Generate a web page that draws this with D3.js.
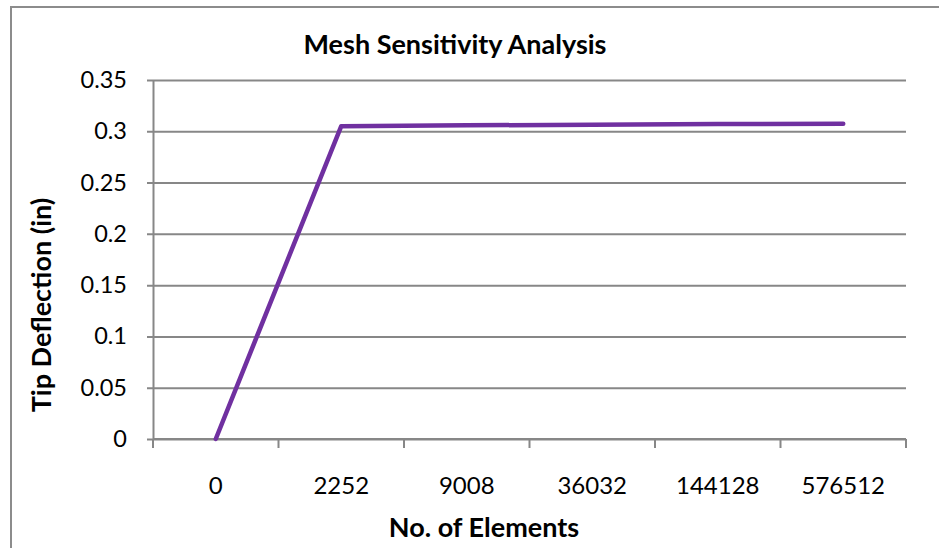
<!DOCTYPE html>
<html>
<head>
<meta charset="utf-8">
<script src="https://cdn.jsdelivr.net/npm/d3@7"></script>
<style>
  html, body { margin: 0; padding: 0; background: #fff; }
  svg { display: block; }
  text { font-family: Lato, "Open Sans", sans-serif; fill: #000; }
</style>
</head>
<body>
<div id="chart"></div>
<script>
// mesh sensitivity data
var categories = ["0", "2252", "9008", "36032", "144128", "576512"];
var deflection = [0, 0.3050, 0.3058, 0.3064, 0.3070, 0.3073];
var yTicks = [0, 0.05, 0.1, 0.15, 0.2, 0.25, 0.3, 0.35];

var W = 939, H = 548;
var margin = {top: 80, right: 33, bottom: 109, left: 153};
var gridColor = "#878787";
var lineColor = "#7030a0";

var svg = d3.select("#chart").append("svg")
    .attr("width", W)
    .attr("height", H);

// chart area border (top + left visible in the picture)
svg.append("rect")
    .attr("x", 11).attr("y", 7)
    .attr("width", W + 10).attr("height", H + 10)
    .attr("fill", "none")
    .attr("stroke", "#8c8c8c")
    .attr("stroke-width", 2);

var x = d3.scaleBand()
    .domain(categories)
    .range([margin.left, W - margin.right])
    .paddingInner(0).paddingOuter(0);

var y = d3.scaleLinear()
    .domain([0, 0.35])
    .range([H - margin.bottom, margin.top]);

// horizontal gridlines + y axis
var yAxis = svg.append("g")
    .attr("transform", "translate(" + margin.left + ",0)")
    .call(d3.axisLeft(y)
        .tickValues(yTicks)
        .tickFormat(function(d) { return d3.format("")(+d.toFixed(2)); })
        .tickSizeInner(-(W - margin.right - margin.left))
        .tickSizeOuter(0)
        .tickPadding(26));
yAxis.select(".domain").attr("stroke", gridColor).attr("stroke-width", 2);
yAxis.selectAll(".tick line")
    .attr("stroke", gridColor)
    .attr("stroke-width", 2)
    .attr("x1", -6);
yAxis.selectAll(".tick text")
    .attr("font-size", "23.5px")
    .attr("font-family", "Lato, sans-serif");

// x axis with category ticks between bands
var xAxis = svg.append("g")
    .attr("transform", "translate(0," + y(0) + ")");
xAxis.append("line")
    .attr("x1", margin.left).attr("x2", W - margin.right)
    .attr("stroke", gridColor).attr("stroke-width", 2);
var edges = categories.map(function(c) { return x(c); }).concat([x(categories[categories.length - 1]) + x.bandwidth()]);
xAxis.selectAll("line.tk")
    .data(edges)
    .enter().append("line")
    .attr("class", "tk")
    .attr("x1", function(d) { return d; })
    .attr("x2", function(d) { return d; })
    .attr("y1", 0).attr("y2", 9)
    .attr("stroke", gridColor).attr("stroke-width", 2);
xAxis.selectAll("text")
    .data(categories)
    .enter().append("text")
    .attr("x", function(d) { return x(d) + x.bandwidth() / 2; })
    .attr("y", 55)
    .attr("text-anchor", "middle")
    .attr("font-size", "24px")
    .text(function(d) { return d; });

// the series line
var line = d3.line()
    .x(function(d, i) { return x(categories[i]) + x.bandwidth() / 2; })
    .y(function(d) { return y(d); });

svg.append("path")
    .datum(deflection)
    .attr("d", line)
    .attr("fill", "none")
    .attr("stroke", lineColor)
    .attr("stroke-width", 4.5)
    .attr("stroke-linejoin", "round")
    .attr("stroke-linecap", "round");

// titles
svg.append("text")
    .attr("x", 455).attr("y", 54)
    .attr("text-anchor", "middle")
    .attr("font-size", "27px")
    .attr("font-weight", "bold")
    .text("Mesh Sensitivity Analysis");

svg.append("text")
    .attr("x", 484).attr("y", 537)
    .attr("text-anchor", "middle")
    .attr("font-size", "27px")
    .attr("font-weight", "bold")
    .text("No. of Elements");

svg.append("text")
    .attr("transform", "translate(51,305) rotate(-90)")
    .attr("text-anchor", "middle")
    .attr("font-size", "27px")
    .attr("font-weight", "bold")
    .text("Tip Deflection (in)");
</script>
</body>
</html>
